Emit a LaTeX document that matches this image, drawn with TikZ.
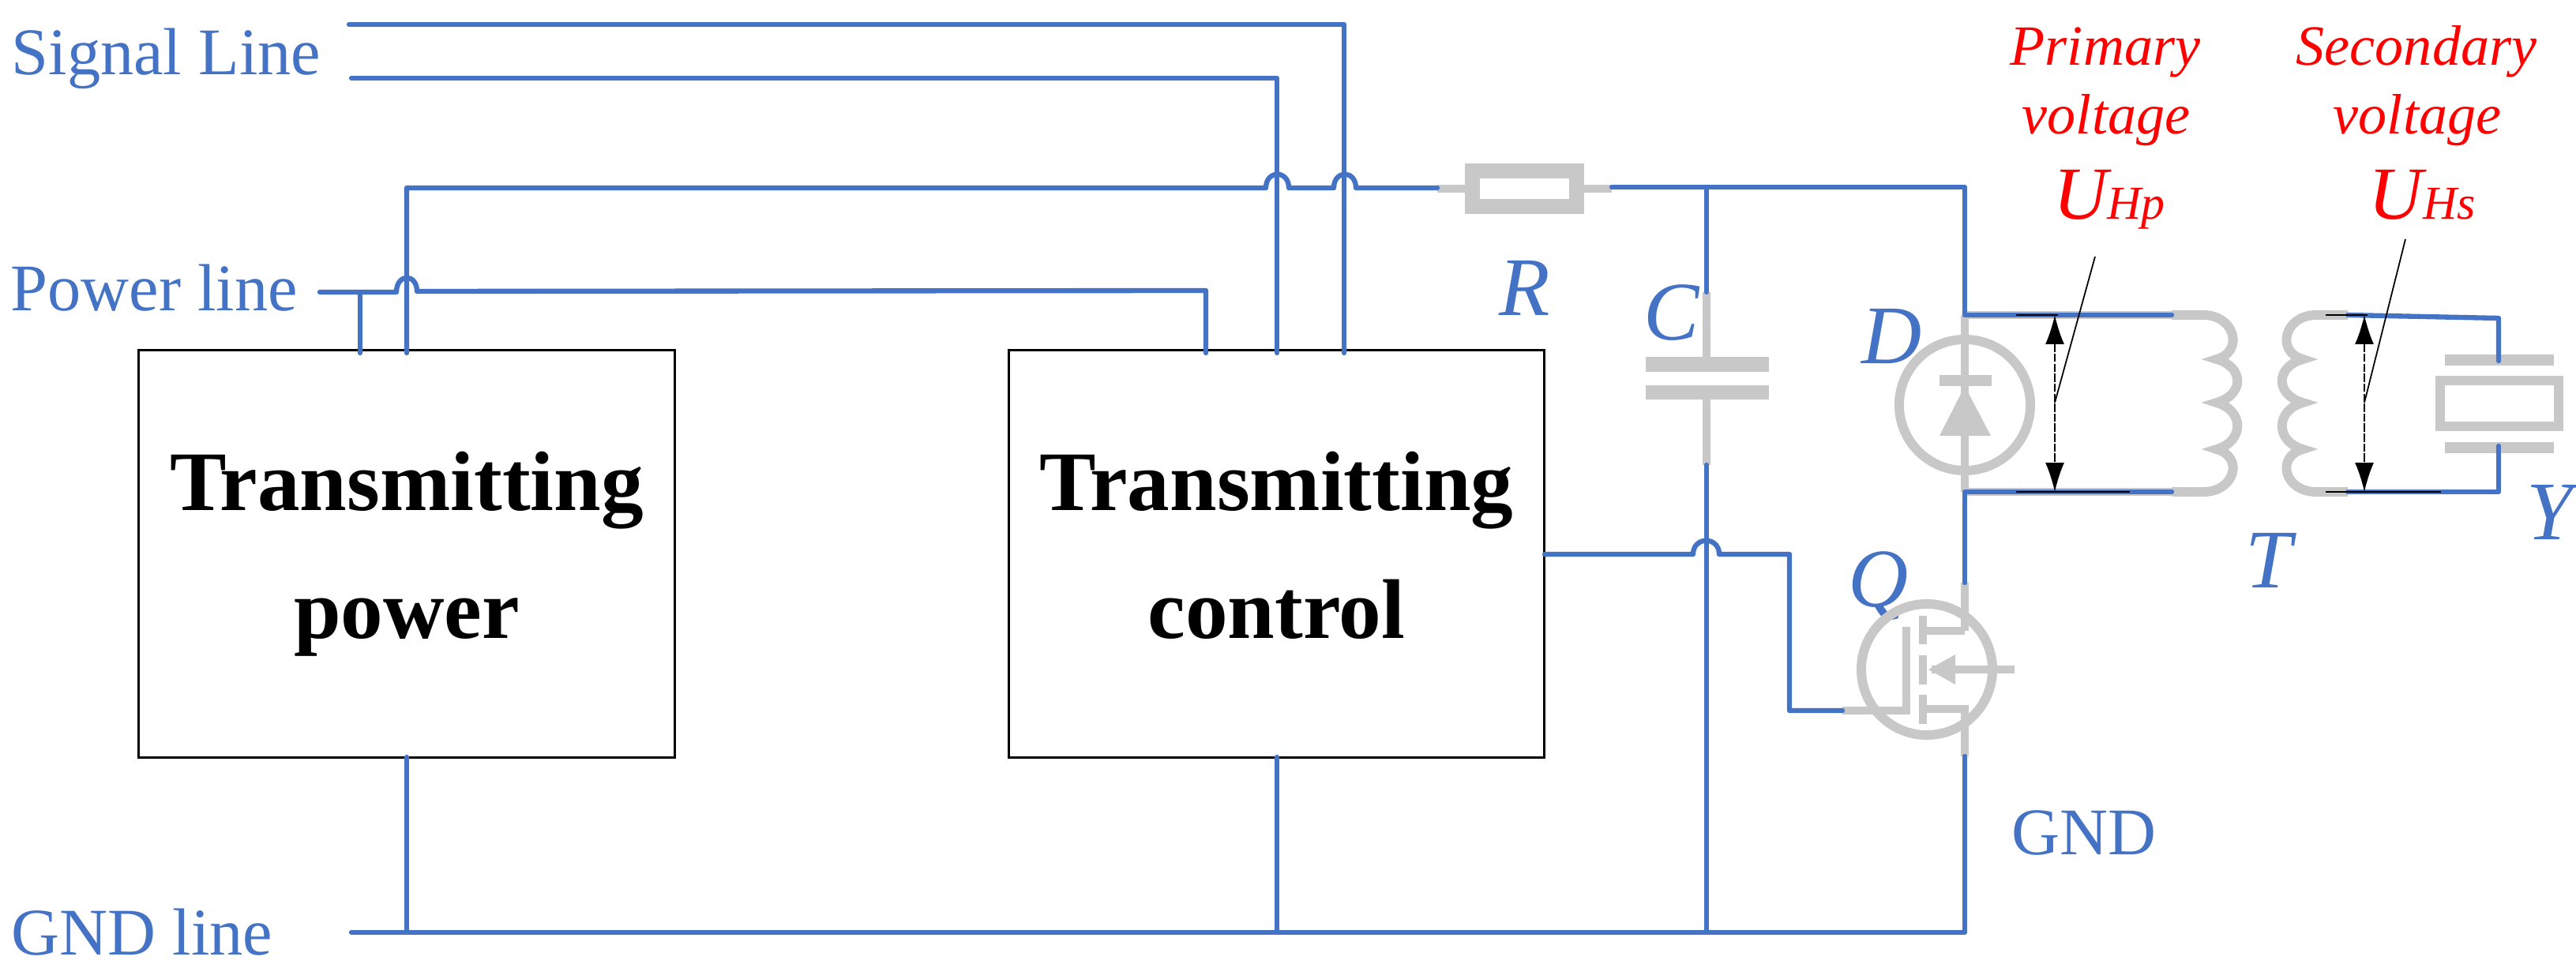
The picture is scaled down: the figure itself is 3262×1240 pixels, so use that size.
\documentclass[tikz,border=0pt]{standalone}
\usepackage{fontspec}
\setmainfont{Liberation Serif}
\usetikzlibrary{arrows.meta}
\definecolor{wireblue}{HTML}{4472C4}
\definecolor{partgray}{HTML}{C8C8C8}
\tikzset{
  wire/.style={wireblue, line width=1.8pt, line cap=round, line join=round},
  lead/.style={partgray, line width=3pt},
  blockbox/.style={draw=black, line width=0.8pt, minimum width=6.78cm, minimum height=5.15cm, inner sep=0pt, align=center, font=\fontsize{30.5}{46}\selectfont\bfseries},
  linelabel/.style={wireblue, anchor=base west, inner sep=0pt, font=\fontsize{24}{24}\selectfont},
  partlabel/.style={wireblue, anchor=base west, inner sep=0pt, font=\fontsize{30}{30}\selectfont\itshape},
  voltlabel/.style={red, anchor=base, inner sep=0pt, font=\fontsize{20.5}{20.5}\selectfont\itshape},
  valvering/.style={circle, draw=partgray, line width=3.4pt, minimum size=1.66cm, inner sep=0pt},
  resbox/.style={rectangle, draw=partgray, line width=5.2pt, minimum width=1.32cm, minimum height=0.45cm, inner sep=0pt},
  volt/.style={black, line width=0.4pt, dash pattern=on 3pt off 0.6pt, {Latex[length=10.5pt,width=6.8pt]}-{Latex[length=10.5pt,width=6.8pt]}},
  marker/.style={black, line width=0.8pt},
  leader/.style={black, line width=0.5pt}
}
\newcommand{\bigU}[1]{{\fontsize{27}{27}\selectfont U}{\fontsize{17}{17}\selectfont #1}}
\begin{document}
\begin{tikzpicture}[x=0.01cm,y=-0.01cm]
  \useasboundingbox (0,0) rectangle (3262,1240);

  \node[blockbox] (txpower) at (515,701.5) {Transmitting\\power};
  \node[blockbox] (txcontrol) at (1616.5,701.5) {Transmitting\\control\vphantom{p}};

  \node[linelabel] (siglabel) at (14,95) {Signal Line};
  \node[linelabel] (powlabel) at (13,394) {Power line};
  \node[linelabel] (gndlabel) at (14,1209) {GND line};
  \node[linelabel] (gndright) at (2547,1083) {GND};
  \node[partlabel] (Rlabel) at (1898,400) {R};
  \node[partlabel] (Clabel) at (2081,431) {C};
  \node[partlabel] (Dlabel) at (2357,461) {D};
  \node[partlabel] (Qlabel) at (2340,769) {Q};
  \node[partlabel] (Tlabel) at (2843,745) {T};
  \node[partlabel] (Ylabel) at (3199,684) {Y};
  \node[voltlabel] (primtext) at (2666,83) {Primary};
  \node[voltlabel] (primvolt) at (2667,170) {voltage};
  \node[voltlabel] (primU) at (2671,278) {\bigU{Hp}};
  \node[voltlabel] (sectext) at (3060,83) {Secondary};
  \node[voltlabel] (secvolt) at (3061,170) {voltage};
  \node[voltlabel] (secU) at (3067,278) {\bigU{Hs}};

  % parts
  \node[resbox] (res) at (1930.5,239) {};
  \node[valvering] (diode) at (2488,513) {};
  \node[valvering] (mos) at (2440,848) {};

  \coordinate (sigA) at (442,31);
  \coordinate (sigAturn) at (1702,31);
  \coordinate (sigAend) at (1702,447);
  \coordinate (sigB) at (445,99);
  \coordinate (sigBturn) at (1617,99);
  \coordinate (sigBend) at (1617,447);
  \coordinate (railtop) at (515,238);
  \coordinate (railfoot) at (515,447);
  \coordinate (railend) at (1820,238);
  \coordinate (pow) at (405,370);
  \coordinate (powstub) at (456,370);
  \coordinate (powfoot) at (456,447);
  \coordinate (powturn) at (1527,368);
  \coordinate (powend) at (1527,447);
  \coordinate (rright) at (2041,237);
  \coordinate (vcc) at (2488,237);
  \coordinate (captop) at (2161,237);
  \coordinate (capleadA) at (2161,370);
  \coordinate (capleadB) at (2161,589);
  \coordinate (capbot) at (2161,1181);
  \coordinate (primA) at (2488,399);
  \coordinate (primAend) at (2750,399);
  \coordinate (primB) at (2488,623);
  \coordinate (primBend) at (2750,623);
  \coordinate (drain) at (2488,738);
  \coordinate (source) at (2488,958);
  \coordinate (gnd) at (2488,1181);
  \coordinate (gndstart) at (445,1181);
  \coordinate (ctrlout) at (1956,702);
  \coordinate (ctrlturn) at (2266,702);
  \coordinate (gateturn) at (2266,900);
  \coordinate (gate) at (2333,900);
  \coordinate (secA) at (2973,399);
  \coordinate (secAturn) at (3164,403);
  \coordinate (secAend) at (3164,457);
  \coordinate (secB) at (2973,623);
  \coordinate (secBturn) at (3164,623);
  \coordinate (secBend) at (3164,565);

  % grey leads under the wires
  \draw[lead] (1820,239) -- (res.west);
  \draw[lead] (res.east) -- (2041,239);
  \draw[lead] (capleadA) -- (2161,452);
  \draw[lead] (2161,506) -- (capleadB);
  \fill[partgray] (2084,452) rectangle (2240,471);
  \fill[partgray] (2084,488) rectangle (2240,506);
  \draw[lead] (primA) -- (primB);
  \fill[partgray] (2456,475) rectangle (2522,489);
  \fill[partgray] (2488,489) -- (2521,552) -- (2456,552) -- cycle;
  \draw[lead] (primA) -- (primAend);
  \draw[lead] (primB) -- (primBend);

  % coil
  \draw[partgray, line width=3.4pt] (2750,399) -- (2790,399) .. controls (2830,399) and (2842,445) .. (2807,455)
    .. controls (2842,465) and (2842,500) .. (2807,510)
    .. controls (2842,520) and (2842,559) .. (2807,569)
    .. controls (2842,579) and (2830,623) .. (2790,623) -- (2750,623);
  \draw[partgray, line width=3.4pt] (2973,399) -- (2933,399) .. controls (2893,399) and (2881,445) .. (2916,455)
    .. controls (2881,465) and (2881,500) .. (2916,510)
    .. controls (2881,520) and (2881,559) .. (2916,569)
    .. controls (2881,579) and (2893,623) .. (2933,623) -- (2973,623);

  % crystal
  \fill[partgray] (3096,449) rectangle (3234,463);
  \draw[partgray, line width=3.6pt] (3090,482) rectangle (3240,540);
  \fill[partgray] (3096,560) rectangle (3234,574);

  % mosfet
  \draw[lead] (gate) -- (2414,900) -- (2414,794);
  \draw[partgray, line width=3pt] (2435,780) -- (2435,816);
  \draw[partgray, line width=3pt] (2435,830) -- (2435,867);
  \draw[partgray, line width=3pt] (2435,880) -- (2435,917);
  \draw[lead] (2435,799) -- (2488,799);
  \draw[lead] (drain) -- (2488,799);
  \draw[lead] (2435,898) -- (2488,898) -- (source);
  \draw[lead] (2446,848) -- (2551,848);
  \fill[partgray] (2442,848) -- (2476,829) -- (2476,867) -- cycle;

  % wires
  \draw[wire] (sigA) -- (sigAturn) -- (sigAend);
  \draw[wire] (sigB) -- (sigBturn) -- (sigBend);
  \draw[wire] (railfoot) -- (railtop) -- (1603,238) .. controls (1603,215) and (1632,215) .. (1632,238)
    -- (1689,238) .. controls (1689,215) and (1717,215) .. (1717,238) -- (railend);
  \draw[wire] (pow) -- (powstub) -- (502,370) .. controls (502,346) and (528,346) .. (528,369) -- (powturn) -- (powend);
  \draw[wire] (powstub) -- (powfoot);
  \draw[wire] (rright) -- (vcc) -- (primA) -- (primAend);
  \draw[wire] (captop) -- (capleadA);
  \draw[wire] (capleadB) -- (capbot);
  \draw[wire] (primBend) -- (primB) -- (drain);
  \draw[wire] (source) -- (gnd) -- (gndstart);
  \draw[wire] (railtop |- 959,959) -- (railtop |- gnd);
  \draw[wire] (1617,959) -- (1617,1181);
  \draw[wire] (ctrlout) -- (2144,702) .. controls (2144,679) and (2177,679) .. (2177,702) -- (ctrlturn) -- (gateturn) -- (gate);
  \draw[wire] (secA) -- (secAturn) -- (secAend);
  \draw[wire] (secB) -- (secBturn) -- (secBend);

  % voltage arrows
  \draw[marker] (2553,399) -- (2606,399);
  \draw[marker] (2553,623) -- (2697,623);
  \draw[marker] (2945,399) -- (2998,399);
  \draw[marker] (2945,623) -- (3091,623);
  \draw[volt] (2602,399) -- (2602,623);
  \draw[volt] (2994,399) -- (2994,623);
  \draw[leader] (2653,325) -- (2602,510);
  \draw[leader] (3046,303) -- (2994,510);
\end{tikzpicture}
\end{document}
